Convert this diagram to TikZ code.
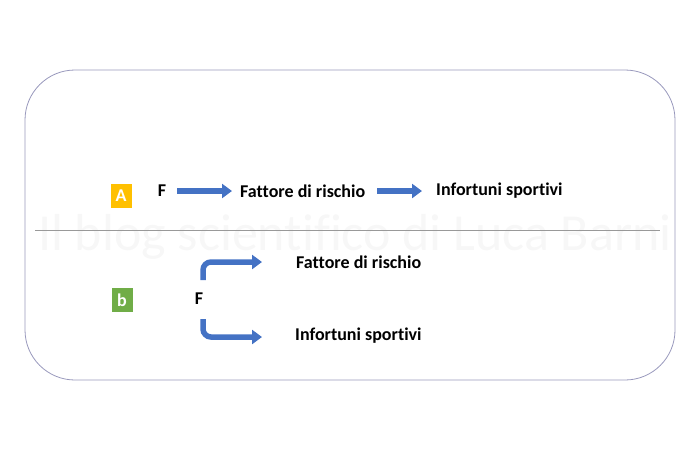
\documentclass[tikz,border=0pt]{standalone}
\usepackage{fontspec}
\setmainfont{Carlito}[Ligatures=NoCommon]
\usetikzlibrary{arrows.meta}
\definecolor{arrowblue}{HTML}{4472C4}
\definecolor{boxgold}{HTML}{FFC000}
\definecolor{boxgreen}{HTML}{70AD47}
\definecolor{framegray}{HTML}{9898BC}

\begin{document}
\begin{tikzpicture}
  [x=1pt,y=-1pt,every node/.style={font=\bfseries\fontsize{18}{21}\selectfont,inner sep=0pt},
   tag/.style={minimum width=21pt,minimum height=24pt,text=white},
   flow/.style={arrowblue,line width=5.5pt,-{Triangle[length=10pt,width=14pt]}},
   bent/.style={flow,rounded corners=8pt}]
  \useasboundingbox (0,0) rectangle (700,450);

  % frame and watermark
  \draw[framegray,line width=0.8pt,rounded corners=50pt] (25,70) rectangle (675,380);
  \node[font=\fontsize{52}{56}\selectfont,text=black!3] (wm) at (355,237) {Il blog scientifico di Luca Barni};
  \draw[black!40,line width=0.6pt] (35,230) -- (660,230);

  % case A
  \node[tag,fill=boxgold] (ta) at (121,196) {A};
  \node (fa) at (162,191) {F};
  \node[anchor=west] (ra) at (240,191) {Fattore di rischio};
  \node[anchor=west] (ia) at (436,191) {Infortuni sportivi};
  \draw[flow,shorten <=11pt,shorten >=8pt] (fa.east) -- (ra.west);
  \draw[flow,shorten <=12pt,shorten >=14pt] (ra.east) -- (ia.west);

  % case b
  \node[tag,fill=boxgreen] (tb) at (122,300) {b};
  \node (fb) at (199,299) {F};
  \node[anchor=west] (rb) at (296,262) {Fattore di rischio};
  \node[anchor=west] (ib) at (295,336) {Infortuni sportivi};
  \coordinate (up) at (262,262);
  \coordinate (down) at (262,337);
  \draw[bent] (203,280) |- (up);
  \draw[bent] (203,319) |- (down);
\end{tikzpicture}
\end{document}
